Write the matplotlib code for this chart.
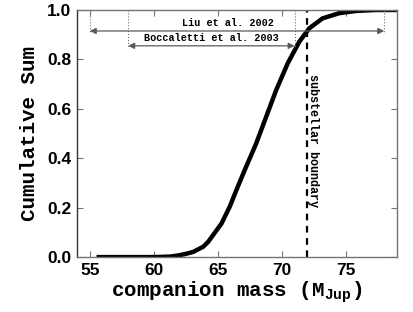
import matplotlib
matplotlib.use("Agg")
import matplotlib.pyplot as plt

plt.rcParams["mathtext.default"] = "regular"

# cumulative distribution
mass = [55.7, 60.0, 61.3, 62.05, 62.5, 63.08, 63.86, 64.25, 64.63, 65.29,
        65.93, 66.45, 67.1, 68.0, 68.78, 69.56, 70.46, 71.37, 72.15, 73.18,
        74.48, 75.78, 77.3, 79.0]
cumsum = [0.0, 0.0, 0.002, 0.008, 0.013, 0.021, 0.042, 0.062, 0.089, 0.136,
          0.204, 0.271, 0.352, 0.46, 0.568, 0.676, 0.784, 0.872, 0.926, 0.966,
          0.987, 0.996, 1.0, 1.0]

boundary = 72.0
liu_range = (55.0, 78.0)
bocc_range = (58.0, 71.0)
liu_label = "Liu et al. 2002"
bocc_label = "Boccaletti et al. 2003"

mono = "Liberation Mono"
sans = "Liberation Sans"

fig = plt.figure(figsize=(4.14, 3.12), dpi=100)
ax = fig.add_axes([0.186, 0.176, 0.773, 0.792])

ax.plot(mass, cumsum, color="black", lw=3.2, solid_joinstyle="round")
ax.axvline(boundary, color="black", lw=1.6, ls=(0, (3, 2.5)))
ax.text(boundary + 0.45, 0.74, "substellar boundary", rotation=270,
        ha="center", va="top", fontsize=8.5, family=mono, weight="bold")

# survey ranges
for (x0, x1), yv, ytop, label, lx in [
        (liu_range, 0.915, 0.905, liu_label, 65.8),
        (bocc_range, 0.855, 0.85, bocc_label, 64.5)]:
    for xv in (x0, x1):
        ax.plot([xv, xv], [1.0, ytop], color="0.45", lw=0.8, ls=":")
    ax.annotate("", xy=(x0, yv), xytext=(x1, yv),
                arrowprops=dict(arrowstyle="<|-|>", color="0.35", lw=0.9,
                                mutation_scale=9, shrinkA=0, shrinkB=0))
    ax.text(lx, yv + 0.012, label, ha="center", va="bottom", fontsize=7.3,
            family=mono, weight="bold")

ax.set_xlim(54, 79)
ax.set_ylim(0, 1)
ax.set_xticks([55, 60, 65, 70, 75])
ax.set_yticks([0.0, 0.2, 0.4, 0.6, 0.8, 1.0])
ax.set_yticklabels(["0.0", "0.2", "0.4", "0.6", "0.8", "1.0"])
ax.tick_params(direction="in", top=True, right=True, length=4, width=0.8,
               color="0.45", pad=4)
for lab in ax.get_xticklabels() + ax.get_yticklabels():
    lab.set_fontfamily(sans)
    lab.set_fontweight("bold")
    lab.set_fontsize(12.5)
for side in ax.spines:
    ax.spines[side].set_color("0.45")
    ax.spines[side].set_linewidth(1.0)
ax.spines["left"].set_color("0.2")

ax.set_xlabel(r"companion mass (M$_{Jup}$)", family=mono,
              weight="bold", fontsize=15, labelpad=1)
ax.set_ylabel("Cumulative Sum", family=mono, weight="bold", fontsize=15,
              labelpad=6)

fig.savefig("out.png", dpi=100)
